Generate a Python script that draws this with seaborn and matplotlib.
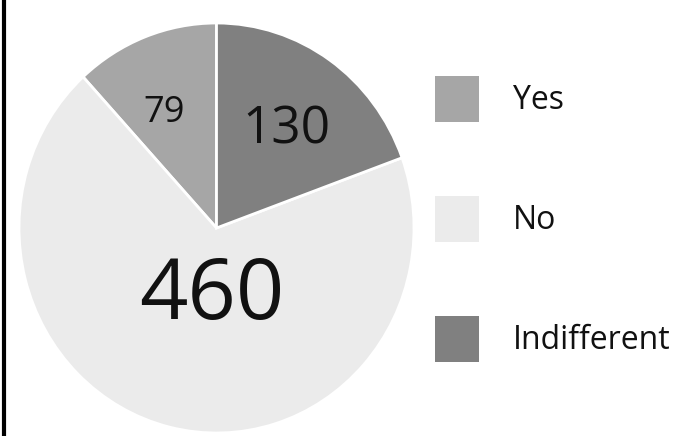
import matplotlib
matplotlib.use("Agg")
import matplotlib.pyplot as plt
import seaborn as sns
import numpy as np
from matplotlib.lines import Line2D

categories = ["Yes", "No", "Indifferent"]
counts = [79, 460, 130]
colors = ["#a6a6a6", "#ebebeb", "#808080"]

sns.set_theme(style="white")
plt.rcParams['font.family'] = ['Open Sans', 'DejaVu Sans']

W, H = 689, 436
fig = plt.figure(figsize=(W / 100, H / 100), dpi=100)
fig.patch.set_facecolor("white")

ax = fig.add_axes([19 / W, 3 / H, 395 / W, 410 / H])
wedges, _ = ax.pie(counts, colors=colors, startangle=90, counterclock=True,
                   wedgeprops=dict(edgecolor="white", linewidth=2))
ax.set_aspect("auto")
ax.set_xlim(-1, 1)
ax.set_ylim(-1, 1)
ax.axis("off")

# label placement relative to each wedge's mid-angle
label_dist = [0.64, 0.29, 0.62]
label_dang = [3, 9, 0]
label_size = [26, 61, 37]
for w, n, d, da, s in zip(wedges, counts, label_dist, label_dang, label_size):
    ang = np.deg2rad((w.theta1 + w.theta2) / 2 + da)
    ax.text(d * np.cos(ang), d * np.sin(ang), str(n), ha="center",
            va="center_baseline", fontsize=s, color="#111111")

fs = 23
em = fs * 100 / 72
leg = fig.legend(wedges, categories, loc="upper left",
                 bbox_to_anchor=(435 / W, 1 - 76 / H), frameon=False,
                 fontsize=fs, handlelength=44 / em, handleheight=1.84,
                 labelspacing=74 / em, handletextpad=34 / em,
                 borderpad=0, borderaxespad=0)
for t in leg.get_texts():
    t.set_color("#111111")
for h in leg.legend_handles:
    h.set_edgecolor("none")

fig.add_artist(Line2D([4 / W, 4 / W], [0, 1], transform=fig.transFigure,
                      color="black", linewidth=3))

fig.savefig("out.png", dpi=100)
